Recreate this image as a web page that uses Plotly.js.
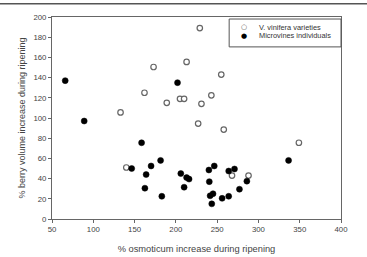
<!DOCTYPE html>
<html><head><meta charset="utf-8">
<script src="https://cdn.plot.ly/plotly-3.0.1.min.js"></script>
<style>html,body{margin:0;padding:0;background:#fff}#c{width:367px;height:257px}</style>
</head><body><div id="c"></div>
<script>
const viniferaX = [229,213,173,255,162,243,205,210,189,231,133,227,258,349,140,268,288];
const viniferaY = [189,155.5,150.5,143,125,122.5,119,119,115,114,105.5,94.5,88.5,75.5,51,43,43];
const microX = [66,202,89,158.5,181.5,336.5,146.5,170,246.5,271,240,264,206,164,213,216,240.5,286,210,162.5,277,245,241.5,183,264,256,243.5];
const microY = [137,135,97,75.5,58,58,50,52.5,52.5,49.5,48.5,47.5,45,44,41,39.5,37,37.5,31.5,30.5,29.5,25,23,22.5,22.5,20.5,15];
const seriesNames = ["V. vinifera varieties","Microvines individuals"];
const xTicks = [50,100,150,200,250,300,350,400];
const yTicks = [0,20,40,60,80,100,120,140,160,180,200];

const fam = "Liberation Sans, Arial, sans-serif";
const font = {family:fam, size:7.8, color:"#444"};
const traces = [
  {x:viniferaX, y:viniferaY, mode:"markers", type:"scatter", name:seriesNames[0],
   marker:{size:5.5, color:"#fff", line:{color:"#666", width:1.2}}},
  {x:microX, y:microY, mode:"markers", type:"scatter", name:seriesNames[1],
   marker:{size:6, color:"#000", line:{color:"#000", width:0.5}}}
];
const axisCommon = {showgrid:false, zeroline:false, showline:true, linecolor:"#666", linewidth:1,
  mirror:true, ticks:"outside", ticklen:3, tickcolor:"#666", tickfont:font};
const layout = {
  width:367, height:257, paper_bgcolor:"#fff", plot_bgcolor:"#fff", showlegend:false,
  margin:{l:52, r:26, t:17, b:38},
  xaxis:Object.assign({}, axisCommon, {range:[50,400], tickvals:xTicks, ticktext:xTicks.map(String),
    title:{text:"% osmoticum increase during ripening", font:{family:fam,size:9.3,color:"#444"}, standoff:12}}),
  yaxis:Object.assign({}, axisCommon, {range:[0,200], tickvals:yTicks, ticktext:yTicks.map(String),
    title:{text:"% berry volume increase during ripening", font:{family:fam,size:9,color:"#444"}, standoff:6}}),
  shapes:[
    {type:"line", xref:"paper", yref:"paper", x0:-0.2, x1:1.1, y0:1.066, y1:1.066, line:{color:"#555", width:1.5}},
    {type:"rect", xref:"paper", yref:"paper", x0:0.613, x1:1.0, y0:0.852, y1:0.99, fillcolor:"#fff", line:{color:"#555", width:1}}
  ],
  annotations:[
    {xref:"paper", yref:"paper", x:0.664, y:0.95, text:"○", showarrow:false, font:{family:"DejaVu Sans", size:7, color:"#555"}, xanchor:"center", yanchor:"middle"},
    {xref:"paper", yref:"paper", x:0.664, y:0.906, text:"●", showarrow:false, font:{family:"DejaVu Sans", size:7, color:"#000"}, xanchor:"center", yanchor:"middle"},
    {xref:"paper", yref:"paper", x:0.71, y:0.95, text:seriesNames[0], showarrow:false, font:{family:fam,size:7.4,color:"#333"}, xanchor:"left", yanchor:"middle"},
    {xref:"paper", yref:"paper", x:0.71, y:0.906, text:seriesNames[1], showarrow:false, font:{family:fam,size:7.4,color:"#333"}, xanchor:"left", yanchor:"middle"}
  ]
};
Plotly.newPlot("c", traces, layout, {displayModeBar:false, staticPlot:true});
</script></body></html>
